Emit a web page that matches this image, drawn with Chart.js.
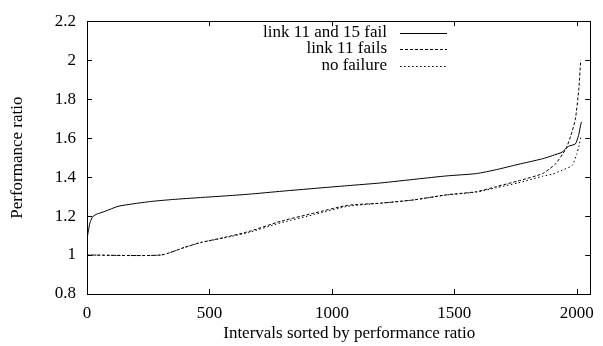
<!DOCTYPE html>
<html>
<head>
<meta charset="utf-8">
<script src="https://cdn.jsdelivr.net/npm/chart.js@4"></script>
<style>
  html, body { margin: 0; padding: 0; background: #fff; }
  #wrap { width: 603px; height: 346px; }
</style>
</head>
<body>
<div id="wrap"><canvas id="chart" width="603" height="346"></canvas></div>
<script>
// Axis ticks
const xTicks = [0, 500, 1000, 1500, 2000];
const yTicks = [0.8, 1, 1.2, 1.4, 1.6, 1.8, 2, 2.2];

// link 11 and 15 fail
const bothFailX = [0, 5, 12, 20, 26, 40, 73, 127, 185, 262, 350, 464, 560, 659, 800, 930, 1064, 1200, 1347, 1468, 1590, 1671, 1760, 1860, 1900, 1940, 1966, 1994, 2007, 2013, 2019];
const bothFailY = [1.08, 1.12, 1.165, 1.19, 1.2, 1.21, 1.224, 1.25, 1.262, 1.275, 1.285, 1.295, 1.303, 1.312, 1.328, 1.342, 1.356, 1.37, 1.39, 1.406, 1.418, 1.438, 1.465, 1.494, 1.51, 1.528, 1.558, 1.57, 1.613, 1.65, 1.683];

// link 11 fails
const oneFailX = [0, 302, 400, 464, 560, 659, 793, 930, 1064, 1198, 1335, 1468, 1590, 1671, 1760, 1860, 1913, 1955, 1975, 1994, 2008, 2016];
const oneFailY = [1.0, 1.0, 1.04, 1.064, 1.09, 1.12, 1.174, 1.216, 1.255, 1.266, 1.283, 1.309, 1.325, 1.351, 1.38, 1.418, 1.468, 1.544, 1.61, 1.696, 1.848, 2.0];

// no failure
const noFailX = [0, 302, 400, 464, 560, 659, 793, 930, 1064, 1198, 1335, 1468, 1590, 1671, 1760, 1860, 1900, 1940, 1981, 2000, 2008, 2016];
const noFailY = [1.0, 1.0, 1.04, 1.064, 1.088, 1.115, 1.166, 1.208, 1.25, 1.266, 1.283, 1.308, 1.323, 1.345, 1.37, 1.404, 1.415, 1.435, 1.46, 1.519, 1.555, 1.603];

const FONT = '"Liberation Serif", "Times New Roman", serif';
const FONT_SIZE = 17;

const toPoints = (xs, ys) => xs.map((x, i) => ({ x: x, y: ys[i] }));

// gnuplot-like frame, inward ticks (mirrored) and key
const frameAndKey = {
  id: "frameAndKey",
  afterDraw(chart) {
    const ctx = chart.ctx;
    const { left, right, top, bottom } = chart.chartArea;
    const xs = chart.scales.x;
    const ys = chart.scales.y;
    const len = 5;

    ctx.save();
    ctx.strokeStyle = "#000";
    ctx.lineWidth = 1;
    ctx.setLineDash([]);
    ctx.strokeRect(Math.round(left) + 0.5, Math.round(top) + 0.5, Math.round(right - left), Math.round(bottom - top));

    ctx.beginPath();
    xTicks.forEach((v) => {
      const px = Math.round(xs.getPixelForValue(v)) + 0.5;
      ctx.moveTo(px, bottom);
      ctx.lineTo(px, bottom - len);
      ctx.moveTo(px, top);
      ctx.lineTo(px, top + len);
    });
    yTicks.forEach((v) => {
      const py = Math.round(ys.getPixelForValue(v)) + 0.5;
      ctx.moveTo(left, py);
      ctx.lineTo(left + len, py);
      ctx.moveTo(right, py);
      ctx.lineTo(right - len, py);
    });
    ctx.stroke();

    // key: text right-aligned, sample line to its right
    ctx.font = FONT_SIZE + "px " + FONT;
    ctx.fillStyle = "#000";
    ctx.textAlign = "right";
    ctx.textBaseline = "middle";
    chart.data.datasets.forEach((ds, i) => {
      const y = 32.5 + i * 16.5;
      ctx.fillText(ds.label, 387, y);
      ctx.setLineDash(ds.borderDash || []);
      ctx.beginPath();
      ctx.moveTo(400, Math.round(y) + 0.5);
      ctx.lineTo(447, Math.round(y) + 0.5);
      ctx.stroke();
    });
    ctx.restore();
  },
};

new Chart(document.getElementById("chart"), {
  type: "line",
  data: {
    datasets: [
      {
        label: "link 11 and 15 fail",
        data: toPoints(bothFailX, bothFailY),
        borderColor: "#000",
        borderWidth: 1,
        borderDash: [],
      },
      {
        label: "link 11 fails",
        data: toPoints(oneFailX, oneFailY),
        borderColor: "#000",
        borderWidth: 1,
        borderDash: [3, 2],
      },
      {
        label: "no failure",
        data: toPoints(noFailX, noFailY),
        borderColor: "#000",
        borderWidth: 1,
        borderDash: [1.5, 2.5],
      },
    ],
  },
  options: {
    responsive: false,
    animation: false,
    layout: { padding: { top: 17, right: 8, left: 0, bottom: 0 } },
    elements: {
      point: { radius: 0 },
      line: { tension: 0.2, fill: false },
    },
    plugins: {
      legend: { display: false },
      tooltip: { enabled: false },
    },
    scales: {
      x: {
        type: "linear",
        min: 0,
        max: 2055,
        afterBuildTicks: (scale) => {
          scale.ticks = xTicks.map((v) => ({ value: v }));
        },
        afterFit: (scale) => {
          scale.height = 52;
        },
        grid: { display: false, drawTicks: false },
        border: { display: false },
        ticks: {
          padding: 9,
          maxRotation: 0,
          color: "#000",
          font: { family: FONT, size: FONT_SIZE },
          callback: (v) => String(v),
        },
        title: {
          display: true,
          // gnuplot puts the xlabel a little right of the plot centre
          text: "     Intervals sorted by performance ratio",
          color: "#000",
          font: { family: FONT, size: FONT_SIZE },
          padding: { top: 0, bottom: 2.5 },
        },
      },
      y: {
        type: "linear",
        min: 0.8,
        max: 2.2,
        afterBuildTicks: (scale) => {
          scale.ticks = yTicks.map((v) => ({ value: v }));
        },
        afterFit: (scale) => {
          scale.width = 87;
        },
        grid: { display: false, drawTicks: false },
        border: { display: false },
        ticks: {
          padding: 11,
          color: "#000",
          font: { family: FONT, size: FONT_SIZE },
          callback: (v) => String(Number(v.toFixed(1))),
        },
        title: {
          display: true,
          text: "Performance ratio",
          color: "#000",
          font: { family: FONT, size: FONT_SIZE },
          padding: { top: 7, bottom: 0 },
        },
      },
    },
  },
  plugins: [frameAndKey],
});
</script>
</body>
</html>
